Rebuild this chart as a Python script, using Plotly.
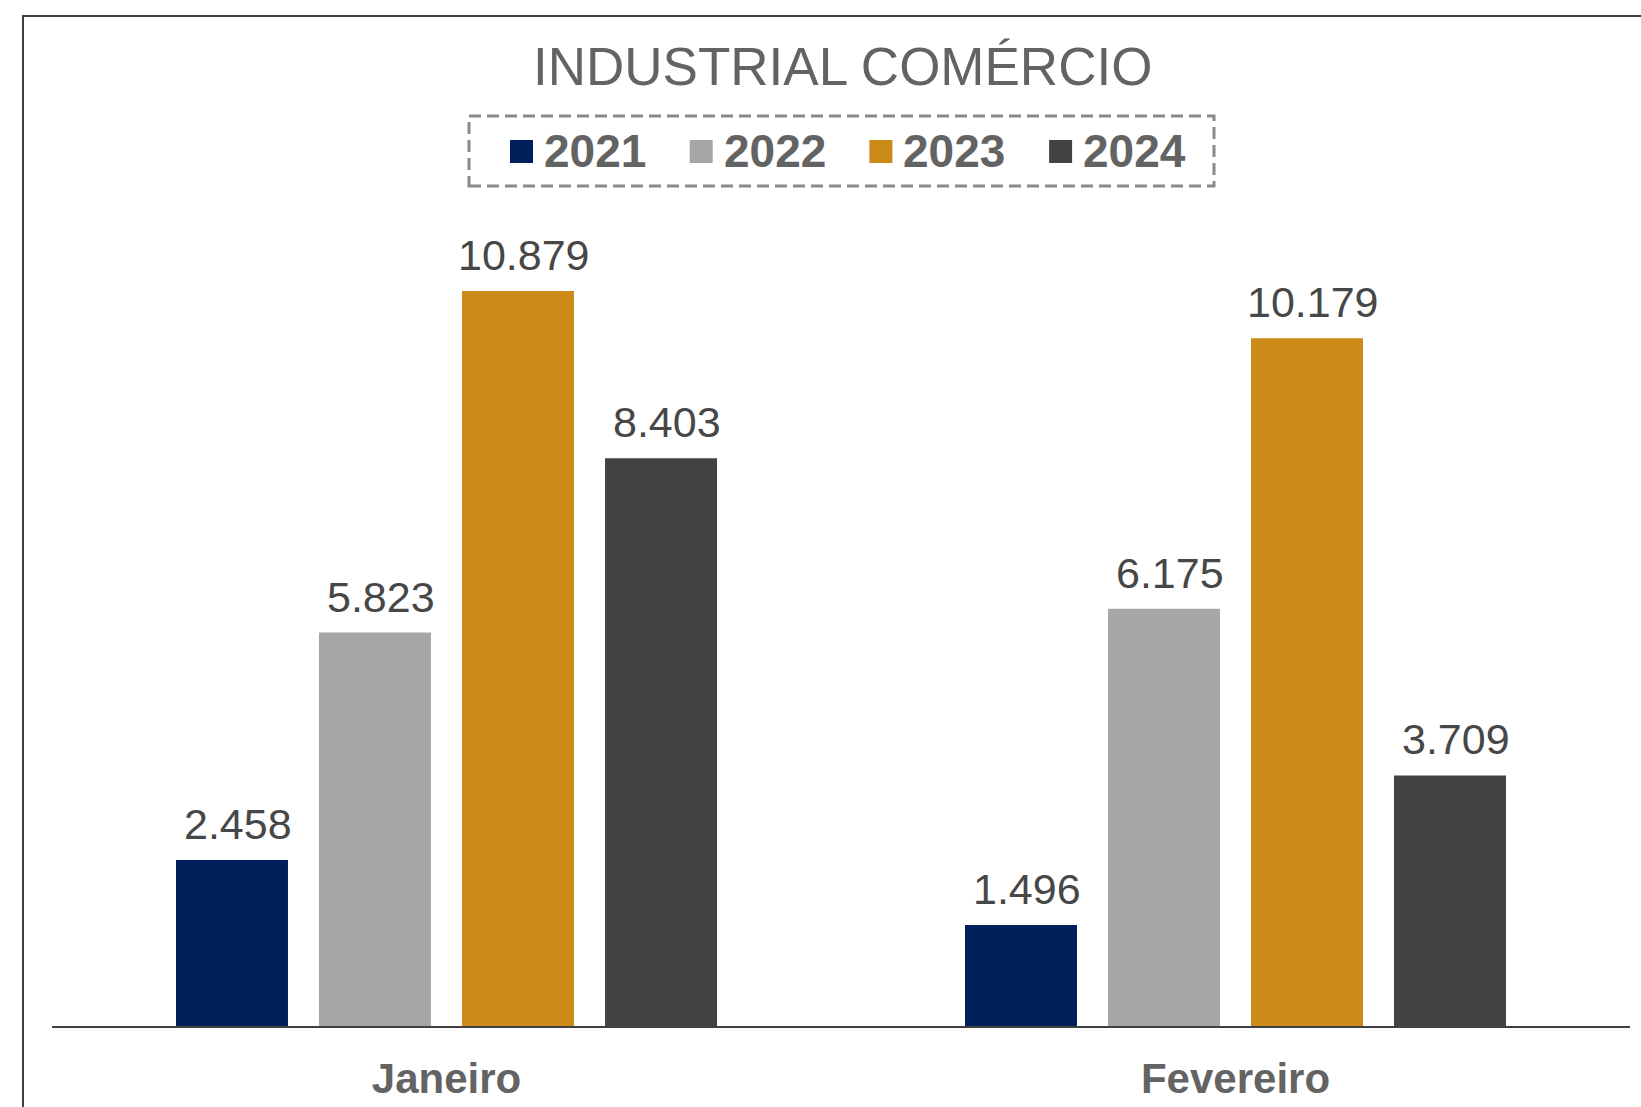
import plotly.graph_objects as go

categories = ["Janeiro", "Fevereiro"]
years = ["2021", "2022", "2023", "2024"]
values_2021 = [2458, 1496]
values_2022 = [5823, 6175]
values_2023 = [10879, 10179]
values_2024 = [8403, 3709]
colors = ["#00205B", "#A6A6A6", "#CC8A18", "#424242"]

series = [values_2021, values_2022, values_2023, values_2024]

W, H = 1641, 1107
ml, mr, mt, mb = 52, 11, 200, 81
plot_w = W - ml - mr
plot_h = H - mt - mb
px_per_unit = 67.56 / 1000.0
yr = plot_h / px_per_unit
BARGAP = 0.275
BARGROUPGAP = 0.217
FONT = "Liberation Sans, Arial"


def px_to_paper_x(px):
    return (px - ml) / plot_w


def px_to_paper_y(py):
    return (H - mb - py) / plot_h


def fmt(v):
    return f"{v:,}".replace(",", ".")


fig = go.Figure()
annotations = []
shapes = []
slot = (1 - BARGAP) / len(series)
for k, (yname, vals, col) in enumerate(zip(years, series, colors)):
    fig.add_trace(go.Bar(
        x=categories, y=vals, name=yname,
        marker=dict(color=col, line=dict(width=0)),
        showlegend=False,
    ))
    for ci, v in enumerate(vals):
        annotations.append(dict(
            x=ci + (k - (len(series) - 1) / 2) * slot, y=v, xref="x", yref="y",
            text=fmt(v), showarrow=False, xanchor="center", yanchor="bottom",
            yshift=10, xshift=6,
            font=dict(family=FONT, size=43, color="#474747"),
        ))
    # manual legend entry
    lx = 510 + k * 179.7
    shapes.append(dict(
        type="rect", xref="paper", yref="paper",
        x0=px_to_paper_x(lx), x1=px_to_paper_x(lx + 23),
        y0=px_to_paper_y(163), y1=px_to_paper_y(140),
        line=dict(width=0), fillcolor=col,
    ))
    annotations.append(dict(
        x=px_to_paper_x(lx + 32), y=px_to_paper_y(151), xref="paper", yref="paper",
        text=yname, showarrow=False, xanchor="left", yanchor="middle",
        font=dict(family=FONT, size=46, color="#636363", weight="bold"),
    ))

annotations.append(dict(
    text="INDUSTRIAL COMÉRCIO", xref="paper", yref="paper",
    x=px_to_paper_x(842), y=px_to_paper_y(66), xanchor="center", yanchor="middle",
    showarrow=False,
    font=dict(family=FONT, size=53, color="#636363"),
))

shapes += [
    dict(type="rect", xref="paper", yref="paper",
         x0=px_to_paper_x(469), x1=px_to_paper_x(1214),
         y0=px_to_paper_y(186), y1=px_to_paper_y(116),
         line=dict(color="#8a8a8a", width=3, dash="12px,6px")),
    dict(type="rect", xref="paper", yref="paper",
         x0=px_to_paper_x(23), x1=px_to_paper_x(1700),
         y0=px_to_paper_y(1200), y1=px_to_paper_y(16),
         line=dict(color="#404040", width=2)),
]

fig.update_layout(
    width=W, height=H,
    margin=dict(l=ml, r=mr, t=mt, b=mb, autoexpand=False),
    paper_bgcolor="white", plot_bgcolor="white",
    barmode="group", bargap=BARGAP, bargroupgap=BARGROUPGAP,
    showlegend=False,
    xaxis=dict(
        showline=True, linecolor="#404040", linewidth=2, showgrid=False, zeroline=False,
        ticks="", ticklabelstandoff=15,
        tickfont=dict(family=FONT, size=42, color="#636363", weight="bold"),
    ),
    yaxis=dict(range=[0, yr], visible=False, showgrid=False, zeroline=False),
    annotations=annotations,
    shapes=shapes,
)

fig.write_html("out.html")
